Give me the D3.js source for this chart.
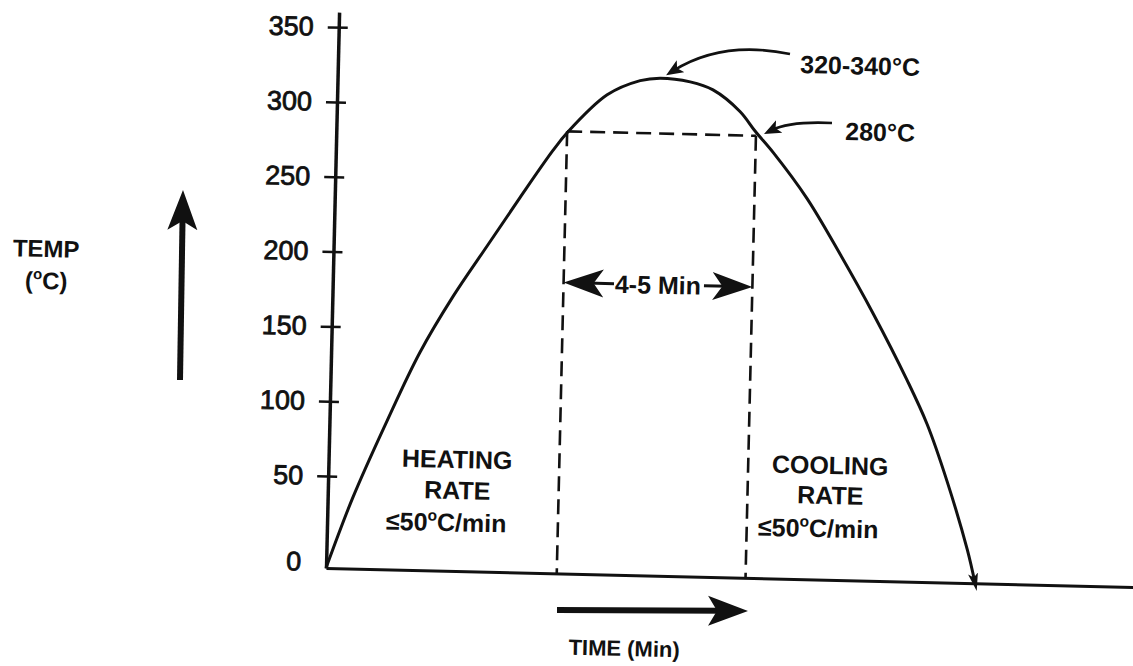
<!DOCTYPE html>
<html>
<head>
<meta charset="utf-8">
<script src="https://cdn.jsdelivr.net/npm/d3@7"></script>
<style>
  body { margin: 0; background: #fff; }
  text { font-family: "Liberation Sans", Arial, sans-serif; fill: #111; }
</style>
</head>
<body>
<svg id="chart" width="1133" height="666"></svg>
<script>
// profile
const timeMin = [0, 0.63, 1.43, 2.20, 2.99, 3.80, 4.59, 5.38, 5.72, 6.69, 7.50, 7.99, 8.74, 9.31, 9.99, 10.38, 10.84, 11.70, 12.56, 13.41, 14.29, 14.81, 15.34, 15.88, 16.09];
const tempC = [0, 39, 88, 134, 172, 206, 239, 271, 283, 309, 319, 321, 319, 314, 300, 287, 273, 243, 206, 167, 123, 94, 56, 18, 0];
const tempTicks = [0, 50, 100, 150, 200, 250, 300, 350];
const holdWindow = [5.72, 10.40]; // min
const holdTemp = 284;
const spanTemp = 183;
const peak = { t: 7.99, T: 321 };

const profile = timeMin.map((t, i) => ({ t: t, T: tempC[i] }));

const svg = d3.select("#chart");
const origin = [326, 568];
const angle = 1.35; // scan is slightly tilted
const sn = Math.sin(angle * Math.PI / 180), cs = Math.cos(angle * Math.PI / 180);

// page position -> position inside the tilted group
function L(px, py) {
  const dx = px - origin[0], dy = py - origin[1];
  return [dx * cs + dy * sn, -dx * sn + dy * cs];
}

const defs = svg.append("defs");
function marker(id, len, half, notch, back) {
  defs.append("marker")
    .attr("id", id)
    .attr("viewBox", `${-len} ${-half - 1} ${len} ${2 * half + 2}`)
    .attr("markerWidth", len)
    .attr("markerHeight", 2 * half + 2)
    .attr("markerUnits", "userSpaceOnUse")
    .attr("refX", -back)
    .attr("refY", 0)
    .attr("orient", "auto")
    .append("path")
    .attr("d", `M0,0L${-len},${-half}L${-len + notch},0L${-len},${half}Z`)
    .attr("fill", "#111");
}
marker("big", 40, 15, 9, 24);
marker("mid", 40, 14, 10, 24);
marker("small", 17, 7, 4, 8);
marker("thin", 18, 5, 4, 8);

const g = svg.append("g")
  .attr("transform", `translate(${origin[0]},${origin[1]}) rotate(${angle})`);

const x = d3.scaleLinear().domain([0, 20]).range([0, 807]);
const y = d3.scaleLinear().domain([0, 50, 350, 360]).range([0, -92, -541, -556]);

// axes
const yAxis = g.append("g")
  .call(d3.axisLeft(y).tickValues(tempTicks).tickSizeInner(11).tickSizeOuter(0).tickPadding(14));
yAxis.select(".domain").attr("stroke", "#111").attr("stroke-width", 3.5);
yAxis.selectAll(".tick line").attr("x1", 9).attr("stroke", "#111").attr("stroke-width", 2.5)
  .filter(d => d === 0).remove();
yAxis.selectAll(".tick text")
  .attr("font-size", 27)
  .attr("font-family", "Liberation Sans, Arial, sans-serif")
  .attr("fill", "#111")
  .attr("stroke", "#111")
  .attr("stroke-width", 0.8)
  .attr("dy", d => d === 0 ? "0.1em" : "0.32em");

const xAxis = g.append("g")
  .call(d3.axisBottom(x).ticks(0).tickSizeOuter(0));
xAxis.select(".domain").attr("stroke", "#111").attr("stroke-width", 3);

// hold window dashes
const dash = "15,8";
holdWindow.forEach(t => {
  g.append("line")
    .attr("x1", x(t)).attr("x2", x(t))
    .attr("y1", y(holdTemp)).attr("y2", y(0))
    .attr("stroke", "#111").attr("stroke-width", 2.6).attr("stroke-dasharray", dash);
});
g.append("line")
  .attr("x1", x(holdWindow[0])).attr("x2", x(holdWindow[1]))
  .attr("y1", y(holdTemp)).attr("y2", y(holdTemp))
  .attr("stroke", "#111").attr("stroke-width", 2.6).attr("stroke-dasharray", dash);

// temperature profile
const line = d3.line()
  .x(d => x(d.t))
  .y(d => y(d.T))
  .curve(d3.curveCatmullRom.alpha(0.5));
g.append("path")
  .datum(profile)
  .attr("d", line)
  .attr("fill", "none")
  .attr("stroke", "#111")
  .attr("stroke-width", 3)
  .attr("marker-end", "url(#thin)");

// straight arrow helper: line stops short, marker carries the tip
function arrow(p0, p1, id, back, w) {
  const dx = p1[0] - p0[0], dy = p1[1] - p0[1];
  const len = Math.hypot(dx, dy);
  g.append("line")
    .attr("x1", p0[0]).attr("y1", p0[1])
    .attr("x2", p1[0] - dx / len * back).attr("y2", p1[1] - dy / len * back)
    .attr("stroke", "#111").attr("stroke-width", w)
    .attr("marker-end", `url(#${id})`);
}
function curvedArrow(p0, c, tip) {
  const dx = tip[0] - c[0], dy = tip[1] - c[1];
  const len = Math.hypot(dx, dy);
  const end = [tip[0] - dx / len * 8, tip[1] - dy / len * 8];
  const p = d3.path();
  p.moveTo(p0[0], p0[1]);
  p.quadraticCurveTo(c[0], c[1], end[0], end[1]);
  g.append("path")
    .attr("d", p.toString())
    .attr("fill", "none")
    .attr("stroke", "#111").attr("stroke-width", 2.6)
    .attr("marker-end", "url(#small)");
}

// 4-5 min span
const midT = (holdWindow[0] + holdWindow[1]) / 2;
arrow([x(midT) - 44, y(spanTemp)], [x(holdWindow[0]), y(spanTemp)], "mid", 24, 3);
arrow([x(midT) + 46, y(spanTemp)], [x(holdWindow[1]), y(spanTemp)], "mid", 24, 3);

// direction arrows
arrow(L(180, 380), L(183, 190), "big", 24, 6);
arrow(L(557, 610), L(748, 611), "big", 24, 6);

// call-outs
curvedArrow(L(790, 54), L(722, 40), [x(peak.t) + 6, y(peak.T) - 3]);
curvedArrow(L(832, 123), L(790, 121), [x(holdWindow[1]) + 8, y(holdTemp) - 2]);

// labels
function label(pos, parts, size, anchor) {
  const t = g.append("text")
    .attr("x", pos[0]).attr("y", pos[1])
    .attr("font-size", size)
    .attr("font-weight", "bold")
    .attr("text-anchor", anchor || "middle");
  let back = 0;
  parts.forEach(pt => {
    if (typeof pt === "string") {
      t.append("tspan").attr("dy", back).text(pt);
      back = 0;
    } else {
      // raised small "o" used as degree sign
      t.append("tspan").attr("font-size", size * 0.62).attr("dy", -size * 0.4).text(pt.sup);
      back = size * 0.4;
    }
  });
  return t;
}

label(L(46, 257), ["TEMP"], 24);
label(L(46, 289), ["(", { sup: "o" }, "C)"], 24);

label(L(457, 468), ["HEATING"], 25);
label(L(457, 499), ["RATE"], 25);
label(L(446, 531), ["≤50", { sup: "o" }, "C/min"], 25);

label(L(830, 474), ["COOLING"], 25);
label(L(830, 504), ["RATE"], 25);
label(L(818, 537), ["≤50", { sup: "o" }, "C/min"], 25);

label(L(800, 73), ["320-340°C"], 25, "start");
label(L(845, 140), ["280°C"], 25, "start");
label(L(624, 656), ["TIME (Min)"], 22);

g.append("text")
  .attr("x", x(midT)).attr("y", y(spanTemp))
  .attr("dy", "0.36em")
  .attr("font-size", 25)
  .attr("font-weight", "bold")
  .attr("text-anchor", "middle")
  .text("4-5 Min");
</script>
</body>
</html>
